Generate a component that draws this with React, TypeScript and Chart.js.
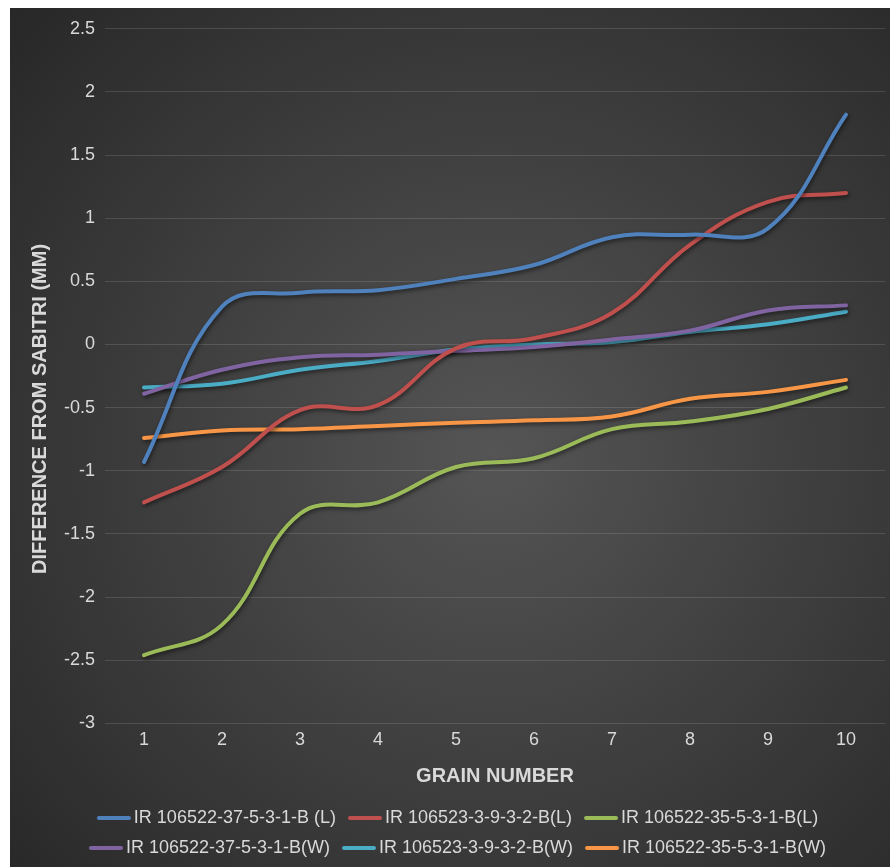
import React, { useEffect, useRef } from "react";
import { Chart, registerables } from "chart.js";

Chart.register(...registerables);

const grainNumbers = ["1", "2", "3", "4", "5", "6", "7", "8", "9", "10"];

const seriesNames = [
  "IR 106522-37-5-3-1-B (L)",
  "IR 106523-3-9-3-2-B(L)",
  "IR 106522-35-5-3-1-B(L)",
  "IR 106522-37-5-3-1-B(W)",
  "IR 106523-3-9-3-2-B(W)",
  "IR 106522-35-5-3-1-B(W)",
];

const seriesColors = ["#4F81BD", "#C0504D", "#9BBB59", "#8064A2", "#4BACC6", "#F79646"];

const blueL = [-0.93, 0.3, 0.41, 0.43, 0.52, 0.63, 0.85, 0.87, 0.92, 1.82];
const redL = [-1.25, -0.97, -0.52, -0.48, -0.03, 0.05, 0.25, 0.79, 1.13, 1.2];
const greenL = [-2.46, -2.22, -1.34, -1.25, -0.97, -0.9, -0.67, -0.61, -0.51, -0.34];
const purpleW = [-0.39, -0.2, -0.1, -0.08, -0.05, -0.02, 0.04, 0.11, 0.27, 0.31];
const cyanW = [-0.34, -0.31, -0.2, -0.13, -0.04, 0.0, 0.02, 0.1, 0.16, 0.26];
const orangeW = [-0.74, -0.68, -0.67, -0.645, -0.62, -0.6, -0.57, -0.43, -0.375, -0.28];

const seriesValues = [blueL, redL, greenL, purpleW, cyanW, orangeW];

const yTitle = "DIFFERENCE FROM SABITRI (MM)";
const xTitle = "GRAIN NUMBER";

const textColor = "#d9d9d9";
const fontFamily = "'Liberation Sans', Arial, sans-serif";

// legend swatch: a line drawn into a small canvas, shifted right so it sits close to the text
function makeSwatch(color: string) {
  const c = document.createElement("canvas");
  c.width = 40;
  c.height = 6;
  const x = c.getContext("2d")!;
  x.strokeStyle = color;
  x.lineWidth = 4;
  x.lineCap = "round";
  x.beginPath();
  x.moveTo(8, 3);
  x.lineTo(38, 3);
  x.stroke();
  return c;
}

const backgroundPlugin = {
  id: "radialBg",
  beforeDraw(chart: any) {
    const { ctx, width, height } = chart;
    const cx = width * 0.55;
    const cy = height * 0.52;
    const r = Math.sqrt(width * width + height * height) * 0.55;
    const g = ctx.createRadialGradient(cx, cy, 0, cx, cy, r);
    g.addColorStop(0, "#555555");
    g.addColorStop(1, "#262626");
    ctx.save();
    ctx.fillStyle = g;
    ctx.fillRect(0, 0, width, height);
    ctx.restore();
  },
};

const shadowPlugin = {
  id: "lineShadow",
  beforeDatasetsDraw(chart: any) {
    const ctx = chart.ctx;
    ctx.save();
    ctx.shadowColor = "rgba(0,0,0,0.55)";
    ctx.shadowBlur = 4;
    ctx.shadowOffsetX = 1;
    ctx.shadowOffsetY = 2;
  },
  afterDatasetsDraw(chart: any) {
    chart.ctx.restore();
  },
};

const yTitlePlugin = {
  id: "yTitle",
  afterDraw(chart: any) {
    const { ctx, chartArea } = chart;
    const xScale = chart.scales.x;
    const cy = (chartArea.top + xScale.bottom) / 2 - 4;
    ctx.save();
    ctx.translate(30, cy);
    ctx.rotate(-Math.PI / 2);
    ctx.font = `bold 20px ${fontFamily}`;
    ctx.fillStyle = textColor;
    ctx.textAlign = "center";
    ctx.textBaseline = "middle";
    ctx.fillText(yTitle, 0, 0);
    ctx.restore();
  },
};

export default function App() {
  const canvasRef = useRef<HTMLCanvasElement | null>(null);

  useEffect(() => {
    if (!canvasRef.current) return;
    const chart = new Chart(canvasRef.current, {
      type: "line",
      data: {
        labels: grainNumbers,
        datasets: seriesNames.map((name, i) => ({
          label: name,
          data: seriesValues[i],
          borderColor: seriesColors[i],
          backgroundColor: seriesColors[i],
          borderWidth: 4,
          borderCapStyle: "round",
          borderJoinStyle: "round",
          pointRadius: 0,
          pointHoverRadius: 0,
          pointStyle: makeSwatch(seriesColors[i]),
          tension: 0.4,
          fill: false,
        })),
      },
      options: {
        animation: false,
        responsive: true,
        maintainAspectRatio: false,
        layout: { padding: { left: 20, right: 5, top: 16, bottom: 0 } },
        font: { family: fontFamily },
        plugins: {
          tooltip: { enabled: false },
          legend: {
            position: "bottom",
            labels: {
              usePointStyle: true,
              pointStyleWidth: 28,
              color: textColor,
              font: { size: 18, family: fontFamily },
              padding: 12,
            },
          },
        },
        scales: {
          x: {
            offset: true,
            grid: { display: false, drawTicks: false },
            border: { display: false },
            ticks: { color: textColor, font: { size: 18, family: fontFamily }, padding: 6 },
            title: {
              display: true,
              text: xTitle,
              color: textColor,
              font: { size: 20, weight: "bold", family: fontFamily },
              padding: { top: 7, bottom: 9 },
            },
          },
          y: {
            min: -3,
            max: 2.5,
            afterFit(scale: any) {
              scale.width = 75;
            },
            grid: { color: "rgba(255,255,255,0.13)", lineWidth: 1, drawTicks: false },
            border: { display: false },
            ticks: {
              stepSize: 0.5,
              color: textColor,
              font: { size: 18, family: fontFamily },
              padding: 10,
              callback: (v: any) => String(Number(Number(v).toFixed(2))),
            },
          },
        },
      },
      plugins: [backgroundPlugin, shadowPlugin, yTitlePlugin],
    } as any);
    return () => chart.destroy();
  }, []);

  return (
    <div style={{ position: "absolute", left: 10, top: 8, width: 880, height: 859 }}>
      <canvas ref={canvasRef} />
    </div>
  );
}
